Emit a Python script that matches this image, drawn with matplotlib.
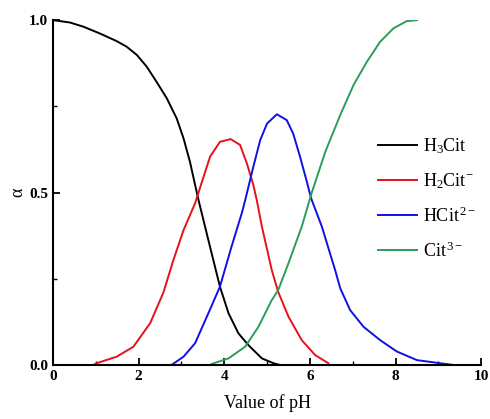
import numpy as np
import matplotlib.pyplot as plt
from matplotlib.ticker import MultipleLocator

plt.rcParams['font.family'] = ['Liberation Serif', 'DejaVu Serif']
plt.rcParams['mathtext.fontset'] = 'custom'
plt.rcParams['mathtext.rm'] = 'Liberation Serif'
plt.rcParams['mathtext.it'] = 'Liberation Serif:italic'

# values (pH, alpha)
ph_h3 = [0.0, 0.4, 0.71, 1.1, 1.49, 1.72, 1.96, 2.19, 2.42, 2.66, 2.89, 3.05, 3.2, 3.32,
         3.40, 3.63, 3.9, 4.1, 4.33, 4.56, 4.88, 5.15, 5.3]
a_h3 = [1.0, 0.993, 0.981, 0.961, 0.939, 0.923, 0.899, 0.865, 0.821, 0.773, 0.715, 0.657, 0.589, 0.522,
        0.478, 0.362, 0.227, 0.15, 0.092, 0.058, 0.019, 0.005, 0.0]

ph_h2 = [0.95, 1.02, 1.49, 1.88, 2.27, 2.58, 2.81, 3.05, 3.32, 3.43, 3.67, 3.9, 4.15, 4.37, 4.53,
         4.68, 4.76, 4.88, 5.11, 5.26, 5.5, 5.81, 6.12, 6.43]
a_h2 = [0.0, 0.005, 0.024, 0.053, 0.121, 0.21, 0.303, 0.391, 0.469, 0.512, 0.604, 0.647, 0.655, 0.638, 0.584,
        0.522, 0.478, 0.401, 0.275, 0.212, 0.14, 0.072, 0.029, 0.005]

ph_h1 = [2.77, 3.05, 3.32, 3.63, 3.9, 4.17, 4.41, 4.49, 4.68, 4.84, 5.0, 5.23, 5.46, 5.61, 5.77, 5.93,
         6.03, 6.28, 6.59, 6.71, 6.94, 7.25, 7.64, 8.03, 8.5, 9.04, 9.35]
a_h1 = [0.0, 0.024, 0.063, 0.15, 0.227, 0.343, 0.44, 0.478, 0.575, 0.652, 0.7, 0.727, 0.71, 0.671, 0.604, 0.531,
        0.483, 0.401, 0.275, 0.222, 0.159, 0.111, 0.072, 0.039, 0.014, 0.005, 0.0]

ph_c = [3.71, 4.1, 4.49, 4.8, 5.11, 5.26, 5.5, 5.81, 6.04, 6.36, 6.71, 7.02, 7.33, 7.64, 7.95, 8.26, 8.5]
a_c = [0.003, 0.019, 0.053, 0.111, 0.188, 0.217, 0.295, 0.401, 0.498, 0.618, 0.725, 0.812, 0.879, 0.937, 0.976, 0.997, 1.0]

labels = ['H$_3$Cit', 'H$_2$Cit$^{-}$', 'HCit$^{\\,2-}$', 'Cit$^{\\,3-}$']
colors = ['black', '#e8101a', '#1010e6', '#2a9d5c']

fig = plt.figure(figsize=(4.9, 4.19), dpi=100)
ax = fig.add_axes([0.108, 0.129, 0.874, 0.823])

series = [(ph_h3, a_h3), (ph_h2, a_h2), (ph_h1, a_h1), (ph_c, a_c)]
for (x, y), lab, c in zip(series, labels, colors):
    ax.plot(x, y, color=c, lw=1.4, label=lab, solid_joinstyle='round')

ax.set_xlim(0, 10)
ax.set_ylim(0, 1.0)
ax.xaxis.set_major_locator(MultipleLocator(2))
ax.xaxis.set_minor_locator(MultipleLocator(1))
ax.yaxis.set_major_locator(MultipleLocator(0.5))
ax.yaxis.set_minor_locator(MultipleLocator(0.25))
ax.yaxis.set_major_formatter(plt.FormatStrFormatter('%.1f'))
ax.spines['top'].set_visible(False)
ax.spines['right'].set_visible(False)
for s in ['left', 'bottom']:
    ax.spines[s].set_linewidth(1.5)
ax.tick_params(which='major', direction='in', length=5, width=1.3, labelsize=11)
ax.tick_params(which='minor', direction='in', length=3, width=1.0)
for t in ax.get_xticklabels() + ax.get_yticklabels():
    t.set_fontweight('bold')

ax.set_xlabel('Value of pH', fontsize=13, labelpad=8)
ax.set_ylabel('α', fontsize=13, labelpad=2)

ax.legend(loc='center left', bbox_to_anchor=(0.72, 0.483), frameon=False, fontsize=13,
          handlelength=2.2, handletextpad=0.3, labelspacing=0.85)

plt.savefig('out.png', dpi=100)
